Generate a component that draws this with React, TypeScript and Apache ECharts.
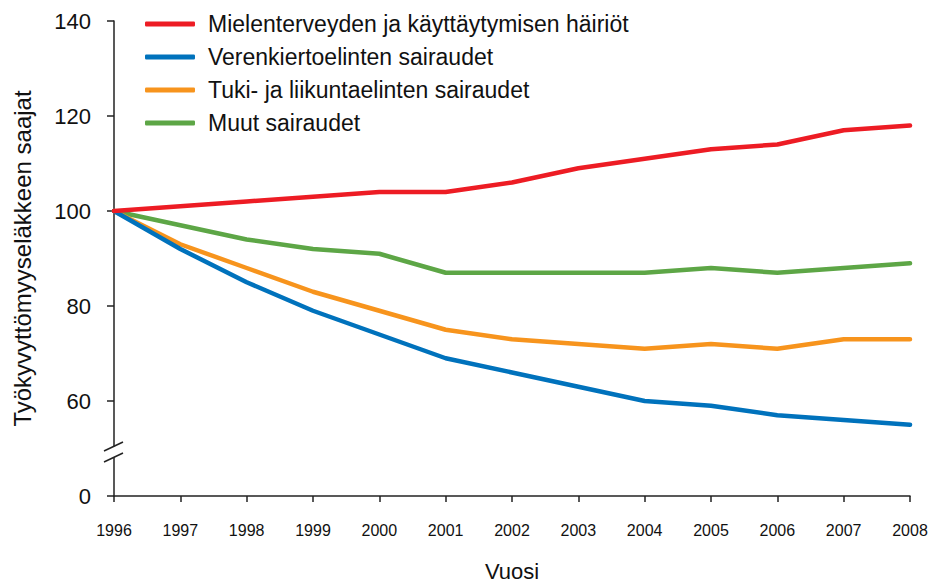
import React, { useEffect, useRef } from "react";
import * as echarts from "echarts";

const years = ["1996", "1997", "1998", "1999", "2000", "2001", "2002", "2003", "2004", "2005", "2006", "2007", "2008"];
const seriesNames = [
  "Mielenterveyden ja käyttäytymisen häiriöt",
  "Verenkiertoelinten sairaudet",
  "Tuki- ja liikuntaelinten sairaudet",
  "Muut sairaudet",
];
const mental = [100, 101, 102, 103, 104, 104, 106, 109, 111, 113, 114, 117, 118];
const circulatory = [100, 92, 85, 79, 74, 69, 66, 63, 60, 59, 57, 56, 55];
const musculo = [100, 93, 88, 83, 79, 75, 73, 72, 71, 72, 71, 73, 73];
const other = [100, 97, 94, 92, 91, 87, 87, 87, 87, 88, 87, 88, 89];
const colors = ["#ED1C24", "#0072BC", "#F7941D", "#5DA646"];
const yMin = 40; // shown as "0" (broken axis)
const yMax = 140;
const breakValue = 49.3;

const FONT = "'Liberation Sans', Arial, sans-serif";

export default function App() {
  const ref = useRef<HTMLDivElement>(null);
  useEffect(() => {
    if (!ref.current) return;
    const chart = echarts.init(ref.current, null, { renderer: "svg" });
    const data = [mental, circulatory, musculo, other];
    chart.setOption({
      animation: false,
      color: colors,
      textStyle: { fontFamily: FONT },
      grid: { left: 114, right: 21, top: 21, bottom: 81 },
      legend: {
        orient: "vertical",
        left: 140,
        top: 7,
        itemWidth: 50,
        itemHeight: 5,
        itemGap: 9,
        icon: "roundRect",
        textStyle: { fontSize: 23, color: "#111", fontFamily: FONT, lineHeight: 24, padding: [0, 0, 0, 8] },
        data: seriesNames,
      },
      xAxis: {
        type: "category",
        data: years,
        boundaryGap: false,
        name: "Vuosi",
        nameLocation: "middle",
        nameGap: 64,
        nameTextStyle: { fontSize: 22, color: "#111", fontFamily: FONT },
        axisLine: { lineStyle: { color: "#222", width: 1.5 } },
        axisTick: { show: true, length: 6, lineStyle: { color: "#222", width: 1.5 } },
        axisLabel: { fontSize: 16, color: "#111", margin: 26, fontFamily: FONT },
        splitLine: { show: false },
      },
      yAxis: {
        type: "value",
        min: yMin,
        max: yMax,
        interval: 20,
        name: "Työkyvyttömyyseläkkeen saajat",
        nameLocation: "middle",
        nameGap: 80,
        nameTextStyle: { fontSize: 24, color: "#111", fontFamily: FONT },
        axisLine: { show: true, lineStyle: { color: "#222", width: 1.5 } },
        axisTick: { show: true, length: 7, lineStyle: { color: "#222", width: 1.5 } },
        axisLabel: {
          fontSize: 22,
          color: "#111",
          margin: 23,
          fontFamily: FONT,
          formatter: (v: number) => (v === yMin ? "0" : String(v)),
        },
        splitLine: { show: false },
      },
      series: seriesNames.map((n, i) => ({
        name: n,
        type: "line",
        data: data[i],
        symbol: "none",
        lineStyle: { width: 4.5, color: colors[i], cap: "round", join: "round" },
        itemStyle: { color: colors[i] },
        z: 10 - i,
      })),
    });
    const p = chart.convertToPixel({ gridIndex: 0 }, [0, breakValue]) as number[];
    const ax = p[0];
    const ay = p[1];
    const u = ay - 5.5;
    const l = ay + 5.5;
    chart.setOption({
      graphic: [
        { type: "rect", shape: { x: ax - 3, y: u, width: 6, height: l - u }, style: { fill: "#fff" }, z: 100 },
        { type: "line", shape: { x1: ax - 10, y1: u + 4.7, x2: ax + 9, y2: u - 4.3 }, style: { stroke: "#222", lineWidth: 1.5 }, z: 101 },
        { type: "line", shape: { x1: ax - 10, y1: l + 4.7, x2: ax + 9, y2: l - 4.3 }, style: { stroke: "#222", lineWidth: 1.5 }, z: 101 },
      ],
    });
    return () => chart.dispose();
  }, []);
  return <div ref={ref} style={{ width: 931, height: 587, position: "absolute", left: 0, top: 0 }} />;
}
